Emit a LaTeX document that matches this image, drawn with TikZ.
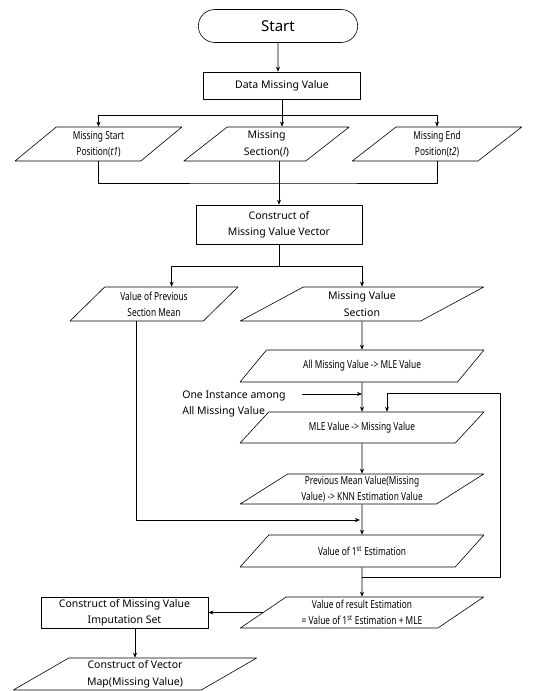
\documentclass[tikz,border=0pt]{standalone}
\usepackage{fontspec}
\setmainfont{Noto Sans}
\newfontfamily\narrowfont[FakeStretch=0.76]{Noto Sans}
\usetikzlibrary{shapes.geometric,shapes.misc,arrows.meta}

\tikzset{
	term/.style={draw,rounded rectangle,minimum width=166pt,minimum height=33pt,font=\fontsize{15}{18}\selectfont},
	proc/.style={draw,rectangle,align=center,inner sep=1pt},
	iol/.style={draw,trapezium,trapezium stretches=true,trapezium left angle=46,trapezium right angle=134,align=center,inner sep=0pt},
	iow/.style={draw,trapezium,trapezium stretches=true,trapezium left angle=34,trapezium right angle=146,align=center,inner sep=0pt},
	nar/.style={font=\narrowfont\fontsize{11}{16}\selectfont}
}

\begin{document}
\begin{tikzpicture}[x=1pt,y=-1pt,line width=0.6pt,line join=round,>={Stealth[length=5pt,width=4pt]},font=\fontsize{10.5}{16.5}\selectfont]
	\useasboundingbox (0,0) rectangle (549,691);
	%% Nodes
	\node[term] (start) at (278,26) {Start};
	\node[proc,minimum width=157pt,minimum height=27pt] (data) at (282,85.5) {Data Missing Value};
	\node[iol,nar,minimum width=167pt,minimum height=34pt] (t1) at (98.5,144) {Missing Start\\Position(\textit{t1})};
	\node[iol,minimum width=167pt,minimum height=34pt] (sec) at (266.5,144) {Missing\\Section(\textit{l})};
	\node[iol,nar,minimum width=170pt,minimum height=34pt] (t2) at (437,144) {Missing End\\Position(\textit{t2})};
	\node[proc,minimum width=166pt,minimum height=39pt] (cons) at (279,224.5) {Construct of\\Missing Value Vector};
	\node[iol,nar,minimum width=168pt,minimum height=34pt] (prev) at (154,304) {Value of Previous\\Section Mean};
	\node[iow,minimum width=244pt,minimum height=34pt] (mvs) at (362,304) {Missing Value\\Section};
	\node[iow,nar,minimum width=244pt,minimum height=32pt] (allmle) at (362,366) {All Missing Value -> MLE Value};
	\node[iow,nar,minimum width=244pt,minimum height=31pt] (mle) at (362,427.5) {MLE Value -> Missing Value};
	\node[iow,nar,minimum width=244pt,minimum height=30pt] (pmean) at (362,489) {Previous Mean Value(Missing\\Value) -> KNN Estimation Value};
	\node[iow,nar,minimum width=244pt,minimum height=32pt] (est1) at (362,551) {Value of 1\textsuperscript{st} Estimation};
	\node[iow,nar,minimum width=244pt,minimum height=31pt] (res) at (362,612.5) {Value of result Estimation\\= Value of 1\textsuperscript{st} Estimation + MLE};
	\node[proc,minimum width=167pt,minimum height=31pt] (imp) at (124.5,612.5) {Construct of Missing Value\\Imputation Set};
	\node[iow,minimum width=244pt,minimum height=32pt] (vmap) at (135,674) {Construct of Vector\\Map(Missing Value)};
	\node[align=left,anchor=west,inner sep=0pt] (inst) at (182,404) {One Instance among\\All Missing Value};
	%% Upper part
	\draw[->] (start) -- (start |- data.north);
	\coordinate (b1) at (282,115);
	\draw (data.south) -- (b1);
	\draw[->] (b1) -| (t1.north);
	\draw[->] (b1) -| (t2.north);
	\draw[->] (b1) -- (b1 |- sec.north);
	\coordinate (j1) at (279,183);
	\draw (t1.south) |- (j1) -| (t2.south);
	\draw[->] (j1 |- sec.south) -- (cons);
	\coordinate (b2) at (279,266);
	\draw (cons.south) -- (b2);
	\draw[->] (b2) -| (prev.top side);
	\draw[->] (b2) -| (mvs.north);
	%% Right column
	\draw[->] (mvs) -- (allmle);
	\draw[->] (allmle) -- (mle);
	\coordinate (ia) at (302,394);
	\draw[->] (ia) -- (ia -| mle.north);
	\draw[->] (mle) -- (pmean);
	\draw[->] (pmean) -- (est1);
	\coordinate (pj) at (360,520);
	\draw[->] (prev.bottom side) |- (pj);
	\draw[->] (est1) -- (res);
	%% Loop back
	\coordinate (lb) at (362,577);
	\coordinate (lr) at (500,393);
	\coordinate (lx) at (387,0);
	\draw[->] (lb) -| (lr) -| (lx |- mle.north);
	%% Lower part
	\draw[->] (res.left side) -- (imp.east);
	\draw[->] (vmap.north |- imp.south) -- (vmap.north);
\end{tikzpicture}
\end{document}
